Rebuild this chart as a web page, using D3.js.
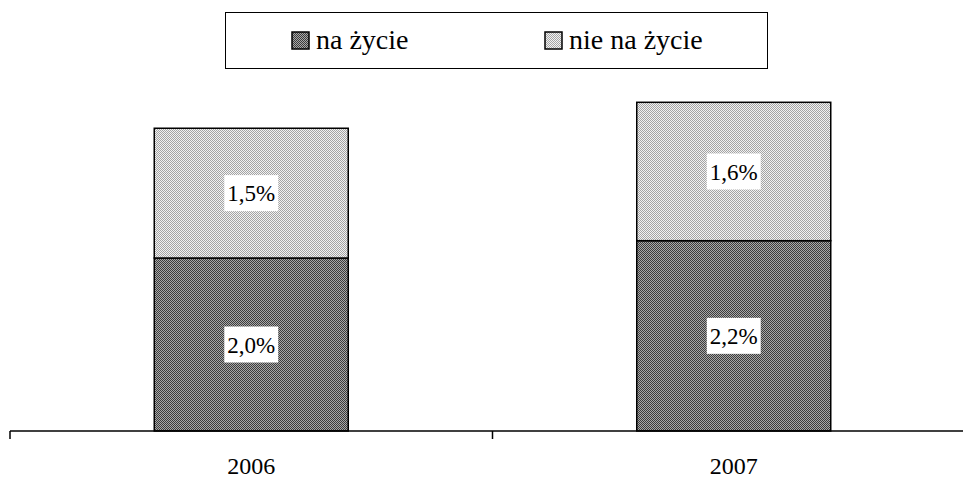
<!DOCTYPE html>
<html>
<head>
<meta charset="utf-8">
<script src="https://cdn.jsdelivr.net/npm/d3@7"></script>
<style>
  body { margin: 0; background: #fff; }
  svg text { font-family: "Liberation Serif", "Times New Roman", "DejaVu Serif", serif; }
</style>
</head>
<body>
<svg id="chart" width="963" height="480"></svg>
<script>
// values in %
var years = ['2006', '2007'];
var naZycie = [2.0, 2.2];
var nieNaZycie = [1.5, 1.6];
var seriesNames = ['na życie', 'nie na życie'];
var labelsNa = ['2,0%', '2,2%'];
var labelsNie = ['1,5%', '1,6%'];

var FONT = '"Liberation Serif", "Times New Roman", "DejaVu Serif", serif';
var svg = d3.select('#chart');

var defs = svg.append('defs');
function checker(id, a, b) {
  var p = defs.append('pattern')
      .attr('id', id)
      .attr('patternUnits', 'userSpaceOnUse')
      .attr('width', 2).attr('height', 2);
  p.append('rect').attr('width', 2).attr('height', 2).attr('fill', b);
  p.append('rect').attr('x', 0).attr('y', 0).attr('width', 1).attr('height', 1).attr('fill', a);
  p.append('rect').attr('x', 1).attr('y', 1).attr('width', 1).attr('height', 1).attr('fill', a);
}
checker('darkFill', '#3c3c3c', '#a8a8a8');
checker('lightFill', '#a4a4a4', '#f2f2f2');
var fills = ['url(#darkFill)', 'url(#lightFill)'];

var x = d3.scaleBand()
    .domain(years)
    .range([10, 975]);

var y = d3.scaleLinear()
    .domain([0, 4])
    .range([431, 85]);

var barW = 194;

var data = years.map(function(yr, i) {
  return { year: yr, na: naZycie[i], nie: nieNaZycie[i], lNa: labelsNa[i], lNie: labelsNie[i] };
});

var bars = svg.append('g').selectAll('g')
    .data(data)
    .enter().append('g');

// na życie
bars.append('rect')
    .attr('x', function(d) { return x(d.year) + (x.bandwidth() - barW) / 2; })
    .attr('y', function(d) { return y(d.na); })
    .attr('width', barW)
    .attr('height', function(d) { return y(0) - y(d.na); })
    .attr('fill', fills[0])
    .attr('stroke', '#000')
    .attr('stroke-width', 1.5);

// nie na życie
bars.append('rect')
    .attr('x', function(d) { return x(d.year) + (x.bandwidth() - barW) / 2; })
    .attr('y', function(d) { return y(d.na + d.nie); })
    .attr('width', barW)
    .attr('height', function(d) { return y(d.na) - y(d.na + d.nie); })
    .attr('fill', fills[1])
    .attr('stroke', '#000')
    .attr('stroke-width', 1.5);

function addLabel(g, cx, cy, txt) {
  var t = g.append('text')
      .attr('x', cx).attr('y', cy + 8)
      .attr('text-anchor', 'middle')
      .attr('font-family', FONT)
      .attr('font-size', 23)
      .attr('fill', '#000')
      .text(txt);
  var w = t.node().getComputedTextLength();
  g.insert('rect', function() { return t.node(); })
      .attr('x', cx - w / 2 - 3).attr('y', cy - 18)
      .attr('width', w + 6).attr('height', 36)
      .attr('fill', '#fff');
}

bars.each(function(d) {
  var g = d3.select(this);
  var cx = x(d.year) + x.bandwidth() / 2;
  addLabel(g, cx, (y(0) + y(d.na)) / 2, d.lNa);
  addLabel(g, cx, (y(d.na) + y(d.na + d.nie)) / 2, d.lNie);
});

// x axis
var axis = svg.append('g')
    .attr('transform', 'translate(0,' + y(0) + ')');
axis.append('line')
    .attr('x1', 10).attr('x2', 963)
    .attr('stroke', '#000').attr('stroke-width', 1.5);
var ticks = [x('2006'), x('2007'), x('2007') + x.bandwidth()];
axis.selectAll('.tick')
    .data(ticks)
    .enter().append('line')
    .attr('x1', function(d) { return d; })
    .attr('x2', function(d) { return d; })
    .attr('y1', 0).attr('y2', 8)
    .attr('stroke', '#000').attr('stroke-width', 1.5);
axis.selectAll('.lab')
    .data(years)
    .enter().append('text')
    .attr('x', function(d) { return x(d) + x.bandwidth() / 2; })
    .attr('y', 43)
    .attr('text-anchor', 'middle')
    .attr('font-family', FONT)
    .attr('font-size', 24)
    .attr('fill', '#000')
    .text(function(d) { return d; });

// legend
var legend = svg.append('g');
legend.append('rect')
    .attr('x', 225.5).attr('y', 12.5)
    .attr('width', 542).attr('height', 56)
    .attr('fill', '#fff')
    .attr('stroke', '#000').attr('stroke-width', 1);
var legX = [292, 545];
seriesNames.forEach(function(name, i) {
  legend.append('rect')
      .attr('x', legX[i]).attr('y', 32)
      .attr('width', 17).attr('height', 17)
      .attr('fill', fills[i])
      .attr('stroke', '#000').attr('stroke-width', 1.5);
  legend.append('text')
      .attr('x', legX[i] + 24).attr('y', 49)
      .attr('font-family', FONT)
      .attr('font-size', 28)
      .attr('fill', '#000')
      .text(name);
});
</script>
</body>
</html>
